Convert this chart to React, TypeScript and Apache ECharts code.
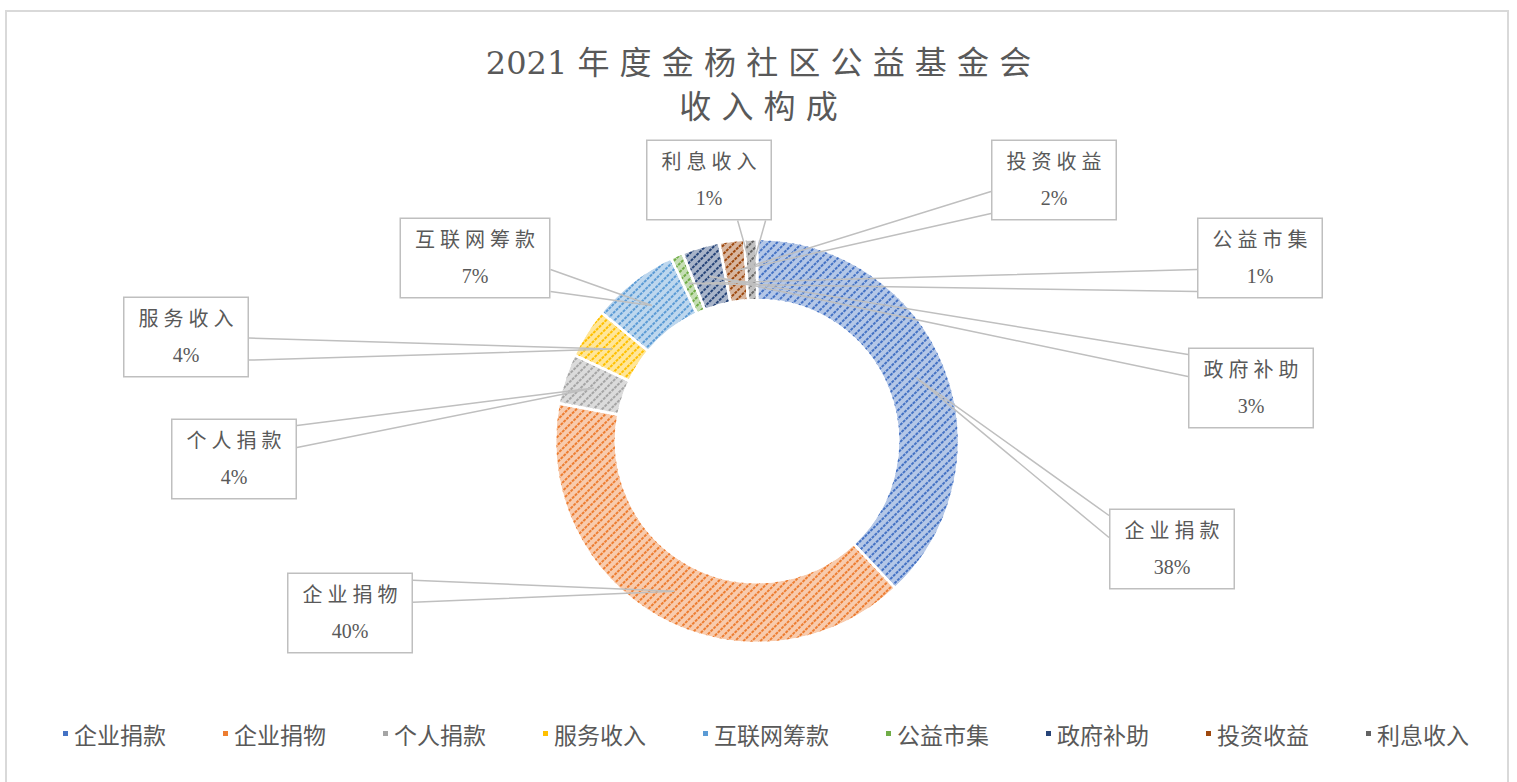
import React, { useEffect, useRef } from 'react';
import * as echarts from 'echarts';

const categories = ['企业捐款', '企业捐物', '个人捐款', '服务收入', '互联网筹款', '公益市集', '政府补助', '投资收益', '利息收入'];
const shares = [38, 40, 4, 4, 7, 1, 3, 2, 1];
const baseColors = ['#4472C4', '#ED7D31', '#A5A5A5', '#FFC000', '#5B9BD5', '#70AD47', '#264478', '#9E480E', '#636363'];
const titleLines = ['2021年度金杨社区公益基金会', '收入构成'];

// label box centres (layout only)
const labelCenters: Record<string, [number, number]> = {
  企业捐款: [1172, 549],
  企业捐物: [350, 613],
  个人捐款: [234, 459],
  服务收入: [186, 337],
  互联网筹款: [475, 258],
  公益市集: [1260, 258],
  政府补助: [1251, 388],
  投资收益: [1054, 180],
  利息收入: [709, 180],
};

const CENTER: [number, number] = [757, 441];
const R_IN = 141;
const R_OUT = 202;

function spaced(s: string): string {
  const chars = Array.from(s);
  let out = '';
  chars.forEach((c, i) => {
    if (i > 0 && !(/[0-9]/.test(c) && /[0-9]/.test(chars[i - 1]))) out += ' ';
    out += c;
  });
  return out;
}

function tint(hex: string, t: number): string {
  const n = parseInt(hex.slice(1), 16);
  const r = (n >> 16) & 255, g = (n >> 8) & 255, b = n & 255;
  const m = (v: number) => Math.round(v * t + 255 * (1 - t));
  return `rgb(${m(r)},${m(g)},${m(b)})`;
}

// mid-angle (radians, math convention) of each slice, derived from the data
function midAngle(index: number): number {
  const total = shares.reduce((a, b) => a + b, 0);
  let before = 0;
  for (let i = 0; i < index; i++) before += shares[i];
  const frac = (before + shares[index] / 2) / total;
  return Math.PI / 2 - frac * Math.PI * 2;
}

const labelFont = '"Liberation Serif", "Noto Sans CJK SC", serif';

export default function App() {
  const ref = useRef<HTMLDivElement>(null);
  useEffect(() => {
    if (!ref.current) return;
    const chart = echarts.init(ref.current, undefined, { renderer: 'svg' });
    const pointers: number[][][] = [];
    const border = {
      type: 'rect',
      silent: true,
      z: -1,
      shape: { x: 6, y: 11, width: 1502, height: 790 },
      style: { fill: 'none', stroke: '#d9d9d9', lineWidth: 2 },
    };
    const option: any = {
      animation: false,
      backgroundColor: '#fff',
      title: {
        text: titleLines.map(spaced).join('\n'),
        left: 'center',
        top: 41,
        padding: 0,
        textStyle: {
          fontSize: 32,
          lineHeight: 44,
          fontWeight: 'normal',
          color: '#595959',
          fontFamily: '"DejaVu Serif", "Noto Sans CJK SC", serif',
        },
      },
      legend: {
        left: 61,
        top: 722,
        padding: 0,
        icon: 'rect',
        itemWidth: 7,
        itemHeight: 7,
        itemGap: 55,
        textStyle: { fontSize: 23, color: '#595959', fontFamily: '"Noto Sans CJK SC", sans-serif' },
        data: categories.map((name, i) => ({ name, itemStyle: { color: baseColors[i], decal: 'none' } })),
      },
      graphic: [border],
      series: [
        {
          type: 'pie',
          center: CENTER,
          radius: [R_IN, R_OUT],
          startAngle: 90,
          clockwise: true,
          avoidLabelOverlap: false,
          emphasis: { scale: false },
          itemStyle: { borderColor: '#fff', borderWidth: 2.5 },
          label: {
            show: true,
            position: 'outside',
            formatter: (p: any) => `${spaced(p.name)}\n${Math.round(p.percent)}%`,
            fontSize: 20,
            lineHeight: 36,
            color: '#595959',
            fontFamily: labelFont,
            backgroundColor: '#fff',
            borderColor: '#bfbfbf',
            borderWidth: 1.5,
            padding: [3, 14],
          },
          labelLine: { show: false },
          labelLayout: (params: any) => {
            const name = categories[params.dataIndex];
            const [x, y] = labelCenters[name];
            const w = params.labelRect.width;
            const h = params.labelRect.height;
            const left = x - w / 2, right = x + w / 2, top = y - h / 2, bottom = y + h / 2;
            const a = midAngle(params.dataIndex);
            const rMid = (R_IN + R_OUT) / 2;
            const ax = CENTER[0] + rMid * Math.cos(a);
            const ay = CENTER[1] - rMid * Math.sin(a);
            let pts: number[][];
            const clamp = (v: number, lo: number, hi: number) => Math.max(lo, Math.min(hi, v));
            if (ax > right) {
              const cy = clamp(ay, top + 18, bottom - 18);
              pts = [[right, cy - 11], [ax, ay], [right, cy + 11]];
            } else if (ax < left) {
              const cy = clamp(ay, top + 18, bottom - 18);
              pts = [[left, cy - 11], [ax, ay], [left, cy + 11]];
            } else if (ay > bottom) {
              const cx = clamp(ax, left + 20, right - 20);
              pts = [[cx - 14, bottom], [ax, ay], [cx + 14, bottom]];
            } else {
              const cx = clamp(ax, left + 20, right - 20);
              pts = [[cx - 14, top], [ax, ay], [cx + 14, top]];
            }
            pointers[params.dataIndex] = pts;
            return { x, y, align: 'center', verticalAlign: 'middle' };
          },
          data: categories.map((name, i) => ({
            name,
            value: shares[i],
            itemStyle: {
              color: tint(baseColors[i], 0.4),
              decal: {
                symbol: 'rect',
                symbolSize: 1,
                dashArrayX: [[3, 1]],
                dashArrayY: [2, 4],
                rotation: -Math.PI / 4,
                color: baseColors[i],
              },
            },
          })),
        },
      ],
    };
    chart.setOption(option);
    const lines = pointers
      .filter((p) => !!p)
      .map((pts) => ({
        type: 'polyline',
        silent: true,
        z: 5,
        shape: { points: pts },
        style: { fill: 'none', stroke: '#bfbfbf', lineWidth: 1.5 },
      }));
    chart.setOption({ graphic: [border, ...lines] }, { replaceMerge: ['graphic'] });
    return () => chart.dispose();
  }, []);
  return (
    <div
      ref={ref}
      style={{ position: 'fixed', left: 0, top: 0, width: 1517, height: 782, background: '#fff' }}
    />
  );
}
